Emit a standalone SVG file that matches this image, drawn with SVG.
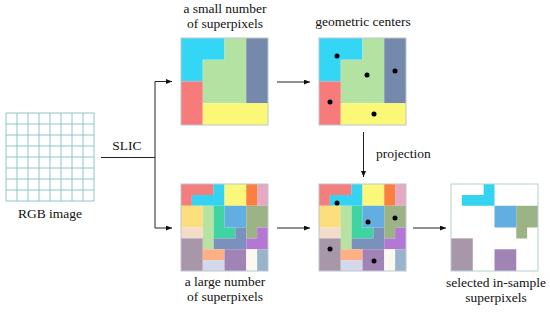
<svg xmlns="http://www.w3.org/2000/svg" xmlns:xlink="http://www.w3.org/1999/xlink" width="550" height="314" viewBox="0 0 550 314" font-family="'Liberation Serif', 'DejaVu Serif', serif">
<style>
text{font-family:'Liberation Serif','DejaVu Serif',serif;font-size:13.5px;fill:#111;}
.mid{text-anchor:middle;}
.frame{fill:none;stroke:#bcc8cc;stroke-width:1;}
.grid{fill:none;stroke:#8ec6c6;stroke-width:1;}
.conn{fill:none;stroke:#222;stroke-width:1;}
.dot{fill:#000;}
</style>
<defs>
<marker id="ah" markerUnits="userSpaceOnUse" markerWidth="7" markerHeight="6" refX="6" refY="2.5" orient="auto">
<path d="M0,0 L6,2.5 L0,5 z" fill="#111"/>
</marker>
<g id="smallSP">
<polygon points="0,0 4,0 4,2 2,2 2,4 0,4" fill="#33d6f5"/>
<polygon points="4,0 6,0 6,6 2,6 2,2 4,2" fill="#b4e2a2"/>
<rect x="6" y="0" width="2" height="6" fill="#7489ab"/>
<rect x="0" y="4" width="2" height="4" fill="#f77b7b"/>
<rect x="2" y="6" width="6" height="2" fill="#fbf877"/>
</g>
<g id="largeSP">
<polygon points="0,0 3,0 3,1 1,1 1,2 0,2" fill="#f47d7d"/>
<polygon points="3,0 4,0 4,2 1,2 1,1 3,1" fill="#35d3f2"/>
<rect x="4" y="0" width="2" height="2" fill="#fbf77a"/>
<rect x="6" y="0" width="1" height="2" fill="#fb8040"/>
<rect x="7" y="0" width="1" height="2" fill="#e6a9c3"/>
<rect x="0" y="2" width="2" height="2" fill="#fcdf7c"/>
<rect x="0" y="4" width="2" height="1" fill="#f4dcca"/>
<rect x="2" y="2" width="1" height="4" fill="#b8e2a2"/>
<polygon points="3,2 4,2 4,4 5,4 5,5 3,5" fill="#40d4a2"/>
<rect x="4" y="2" width="2" height="2" fill="#63aee0"/>
<polygon points="5,4 6,4 6,6 3,6 3,5 5,5" fill="#7a90bd"/>
<polygon points="6,2 8,2 8,4 7,4 7,5 6,5" fill="#9cb485"/>
<polygon points="7,4 8,4 8,6 6,6 6,5 7,5" fill="#b478d4"/>
<rect x="0" y="5" width="2" height="3" fill="#a897a8"/>
<rect x="2" y="6" width="2" height="1" fill="#fcb084"/>
<rect x="2" y="7" width="2" height="1" fill="#d4d8ea"/>
<rect x="4" y="6" width="2" height="2" fill="#a283b6"/>
<rect x="6" y="6" width="1" height="2" fill="#f9f9f0"/>
<rect x="7" y="6" width="1" height="2" fill="#98b4cc"/>
</g>
</defs>
<rect width="550" height="314" fill="#ffffff"/>

<g id="rgb-image">
<path class="grid" d="M6,113 H94 M6,124 H94 M6,135 H94 M6,146 H94 M6,157 H94 M6,168 H94 M6,179 H94 M6,190 H94 M6,201 H94 M6,113 V201 M17,113 V201 M28,113 V201 M39,113 V201 M50,113 V201 M61,113 V201 M72,113 V201 M83,113 V201 M94,113 V201"/>
<text class="mid" x="50" y="218">RGB image</text>
</g>

<g id="small-superpixels">
<use xlink:href="#smallSP" transform="translate(181,38) scale(10.875)"/>
<rect class="frame" x="181" y="38" width="87" height="87"/>
<text class="mid" x="225" y="13">a small number</text>
<text class="mid" x="225" y="28">of superpixels</text>
</g>

<g id="geometric-centers">
<use xlink:href="#smallSP" transform="translate(319,38) scale(10.875)"/>
<rect class="frame" x="319" y="38" width="87" height="87"/>
<circle class="dot" cx="337" cy="56" r="2.5"/>
<circle class="dot" cx="367" cy="75" r="2.5"/>
<circle class="dot" cx="395" cy="71" r="2.5"/>
<circle class="dot" cx="330" cy="102" r="2.5"/>
<circle class="dot" cx="374" cy="114" r="2.5"/>
<text class="mid" x="363" y="26">geometric centers</text>
</g>

<g id="large-superpixels">
<use xlink:href="#largeSP" transform="translate(181,184) scale(10.875)"/>
<rect class="frame" x="181" y="184" width="87" height="87"/>
<text class="mid" x="225" y="286">a large number</text>
<text class="mid" x="225" y="301">of superpixels</text>
</g>

<g id="projected-centers">
<use xlink:href="#largeSP" transform="translate(319,184) scale(10.875)"/>
<rect class="frame" x="319" y="184" width="87" height="87"/>
<circle class="dot" cx="337" cy="203" r="2.5"/>
<circle class="dot" cx="368" cy="222" r="2.5"/>
<circle class="dot" cx="395" cy="218" r="2.5"/>
<circle class="dot" cx="330" cy="249" r="2.5"/>
<circle class="dot" cx="374" cy="261" r="2.5"/>
</g>

<g id="selected-superpixels">
<g transform="translate(451,184) scale(10.875)">
<polygon points="3,0 4,0 4,2 1,2 1,1 3,1" fill="#35d3f2"/>
<rect x="4" y="2" width="2" height="2" fill="#63aee0"/>
<polygon points="6,2 8,2 8,4 7,4 7,5 6,5" fill="#9cb485"/>
<rect x="0" y="5" width="2" height="3" fill="#a897a8"/>
<rect x="4" y="6" width="2" height="2" fill="#a283b6"/>
</g>
<rect class="frame" x="451" y="184" width="87" height="87" style="stroke:#b4d0d0"/>
<text class="mid" x="496" y="287">selected in-sample</text>
<text class="mid" x="496" y="302">superpixels</text>
</g>

<g id="connectors">
<path class="conn" d="M101,157.5 H155"/>
<path class="conn" d="M155,81.5 V228"/>
<path class="conn" d="M155,81.5 H172" marker-end="url(#ah)"/>
<path class="conn" d="M155,228 H172" marker-end="url(#ah)"/>
<path class="conn" d="M277,82 H310" marker-end="url(#ah)"/>
<path class="conn" d="M277,228 H310" marker-end="url(#ah)"/>
<path class="conn" d="M413,228 H446" marker-end="url(#ah)"/>
<path class="conn" d="M363.5,132 V177" marker-end="url(#ah)"/>
<text class="mid" x="127" y="150">SLIC</text>
<text x="376" y="158">projection</text>
</g>
</svg>
